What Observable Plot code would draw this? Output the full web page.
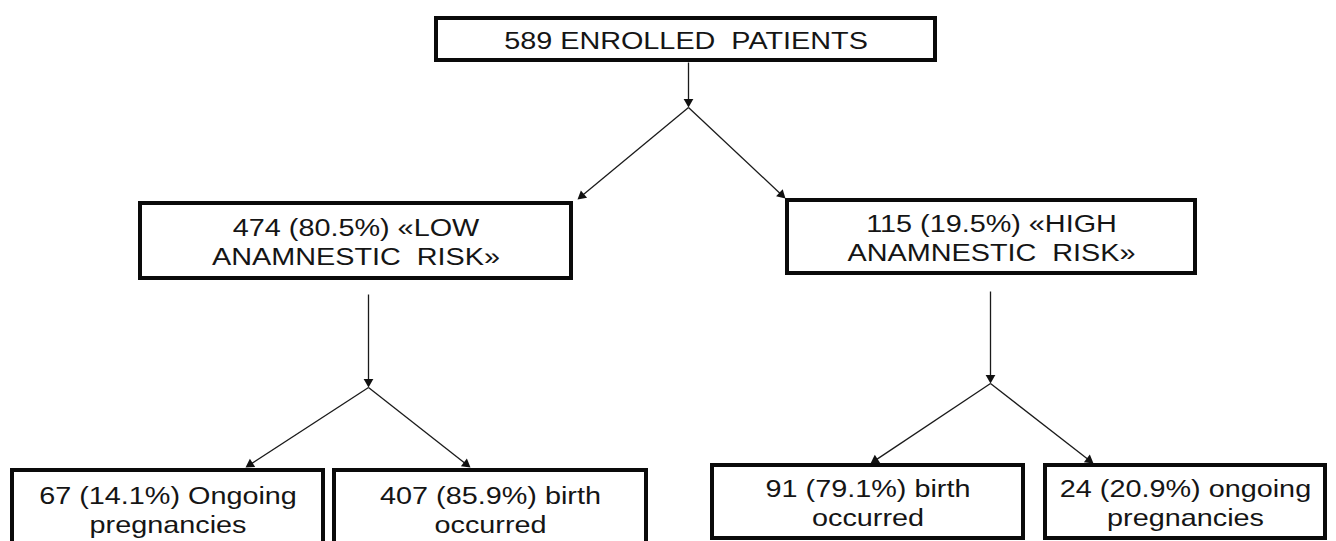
<!DOCTYPE html>
<html>
<head>
<meta charset="utf-8">
<script src="https://cdn.jsdelivr.net/npm/d3@7"></script>
<script src="https://cdn.jsdelivr.net/npm/@observablehq/plot@0.6"></script>
<style>
  html, body { margin: 0; padding: 0; background: #fff; }
  svg text { white-space: pre; }
</style>
</head>
<body>
<div id="chart"></div>
<script>
// ---- data ----
const nodeIds = ["root", "low", "high", "lowOngoing", "lowBirth", "highBirth", "highOngoing"];
const nodeCounts = [589, 474, 115, 67, 407, 91, 24];
const nodePercents = [null, "80.5%", "19.5%", "14.1%", "85.9%", "79.1%", "20.9%"];
const nodeLabels = [
  "ENROLLED  PATIENTS",
  "«LOW\nANAMNESTIC  RISK»",
  "«HIGH\nANAMNESTIC  RISK»",
  "Ongoing\npregnancies",
  "birth\noccurred",
  "birth\noccurred",
  "ongoing\npregnancies"
];
const nodeParents = [null, "root", "root", "low", "low", "high", "high"];

// ---- layout (pixel positions of the diagram) ----
const boxLayout = {
  root:        {x1: 436, x2: 935,  y1: 18,  y2: 60},
  low:         {x1: 140, x2: 571,  y1: 203, y2: 278},
  high:        {x1: 787, x2: 1195, y1: 200, y2: 273},
  lowOngoing:  {x1: 12,  x2: 323,  y1: 470, y2: 548},
  lowBirth:    {x1: 334, x2: 646,  y1: 470, y2: 548},
  highBirth:   {x1: 712, x2: 1023, y1: 465, y2: 538},
  highOngoing: {x1: 1045, x2: 1325, y1: 465, y2: 538}
};
const flowLayout = {
  root: {stemX: 688, stemTop: 62,  branchY: 107},
  low:  {stemX: 368, stemTop: 294, branchY: 387},
  high: {stemX: 990, stemTop: 291, branchY: 383}
};
const tipLayout = {
  low: [577, 199], high: [785, 198],
  lowOngoing: [245, 467], lowBirth: [470, 467],
  highBirth: [870, 463], highOngoing: [1093, 463]
};

// ---- build tables ----
const boxes = nodeIds.map((id, i) => {
  const first = nodePercents[i] == null
    ? `${nodeCounts[i]} ${nodeLabels[i]}`
    : `${nodeCounts[i]} (${nodePercents[i]}) ${nodeLabels[i]}`;
  return {id, text: first, ...boxLayout[id]};
});

const headR = 3.6;
const apex = 2 * Math.sqrt((headR * headR * Math.PI) / (3 * Math.sqrt(3)));
const segments = [];
const heads = [];
function addArrow(x1, y1, x2, y2) {
  const dx = x2 - x1, dy = y2 - y1, L = Math.hypot(dx, dy);
  const ux = dx / L, uy = dy / L;
  segments.push({x1, y1, x2: x2 - ux * 3, y2: y2 - uy * 3});
  heads.push({x: x2 - ux * apex, y: y2 - uy * apex, angle: Math.atan2(dx, -dy) * 180 / Math.PI});
}
Object.keys(flowLayout).forEach(pid => {
  const f = flowLayout[pid];
  addArrow(f.stemX, f.stemTop, f.stemX, f.branchY);
  nodeIds.forEach((id, i) => {
    if (nodeParents[i] === pid) {
      const [tx, ty] = tipLayout[id];
      addArrow(f.stemX, f.branchY, tx, ty);
    }
  });
});

const chart = Plot.plot({
  width: 1336,
  height: 541,
  margin: 0,
  style: {background: "#fff", fontFamily: "'Liberation Sans', Arial, sans-serif"},
  x: {domain: [0, 1336], range: [0, 1336], axis: null},
  y: {domain: [0, 541], range: [0, 541], axis: null},
  marks: [
    Plot.link(segments, {x1: "x1", y1: "y1", x2: "x2", y2: "y2", stroke: "#1a1a1a", strokeWidth: 1.3}),
    Plot.dot(heads, {x: "x", y: "y", symbol: "triangle", r: headR, rotate: "angle", fill: "#111", stroke: "none"}),
    Plot.rect(boxes, {x1: "x1", x2: "x2", y1: "y1", y2: "y2", fill: "#fff", stroke: "#0a0a0a", strokeWidth: 4}),
    Plot.text(boxes, {
      x: d => (d.x1 + d.x2) / 2,
      y: d => (d.y1 + d.y2) / 2,
      text: "text",
      fontSize: 24,
      lineHeight: 1.2,
      fill: "#151515",
      fontFamily: "'Liberation Sans', Arial, sans-serif"
    })
  ]
});

// the source figure's lettering is stretched horizontally
chart.querySelectorAll("text").forEach(t => {
  const tr = t.getAttribute("transform");
  if (tr) t.setAttribute("transform", tr + " scale(1.2,1)");
});

document.getElementById("chart").appendChild(chart);
</script>
</body>
</html>
